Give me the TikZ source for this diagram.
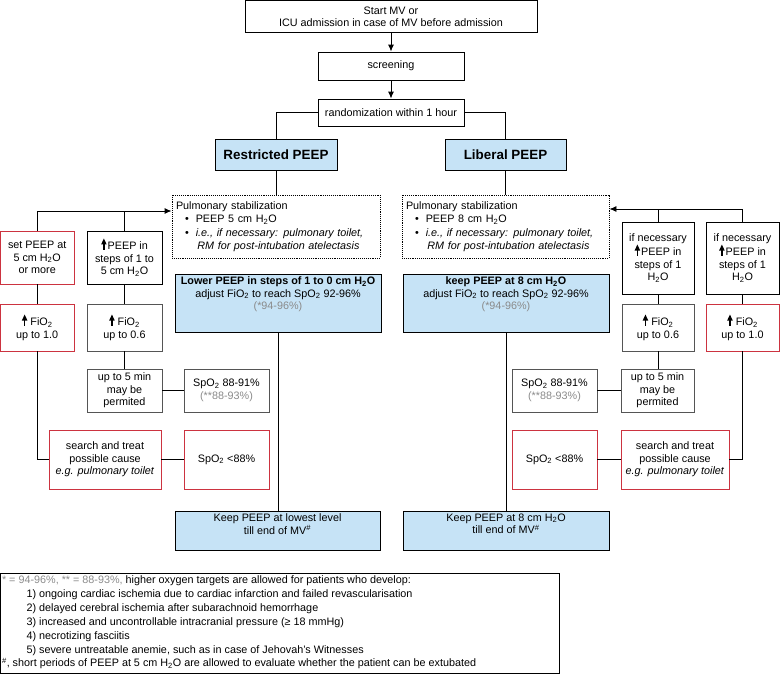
\documentclass[tikz,border=0pt]{standalone}
\usepackage{fontspec}
\setmainfont{Liberation Sans}
\usetikzlibrary{arrows.meta}
\definecolor{bluef}{HTML}{C6E3F6}
\definecolor{redb}{HTML}{CC3340}
\definecolor{grayb}{HTML}{555555}
\definecolor{grayt}{HTML}{8A8A8A}
\newcommand{\Hzo}{H\textsubscript{2}O}
\newcommand{\Fio}{FiO\textsubscript{2}}
\newcommand{\Spo}{SpO\textsubscript{2}}
\newcommand{\uparr}{\tikz[baseline=0pt]{\fill (-0.7pt,-0.5pt) rectangle (0.7pt,6pt); \fill (-2.8pt,5pt) -- (0pt,11pt) -- (2.8pt,5pt) -- cycle;}}
\begin{document}
\begin{tikzpicture}[x=1pt,y=-1pt,
  base/.style={draw, line width=0.9pt, inner sep=1pt, align=center, font=\fontsize{10.8}{12.7}\selectfont},
  bx/.style n args={2}{base, minimum width=#1, minimum height=#2},
  redbox/.style={draw=redb},
  graybox/.style={draw=grayb},
  bluebox/.style={fill=bluef},
  dotbox/.style={densely dotted},
  conn/.style={line width=0.9pt},
  arr/.style={conn, -{Latex[length=7pt,width=6pt]}},
  txt/.style={inner sep=0pt, font=\fontsize{10.8}{12.7}\selectfont}
]
\useasboundingbox (0,0) rectangle (780,675);

% top
\node[bx={292}{32}] (start) at (391,16.8) {Start MV or\\ICU admission in case of MV before admission};
\node[bx={146}{28}] (screen) at (391,66) {screening};
\node[bx={146}{27}] (rand) at (391,112.5) {randomization within 1 hour};
\node[bx={122}{31}, bluebox, font=\fontsize{13.4}{15}\selectfont\bfseries] (restr) at (276,154.5) {Restricted PEEP};
\node[bx={121}{31}, bluebox, font=\fontsize{13.4}{15}\selectfont\bfseries] (lib) at (505.5,154.5) {Liberal PEEP};

% pulmonary stabilization
\node[bx={208}{63}, dotbox, align=left, text width=200pt, fontsize/.style={}] (pulmL) at (276,226.5)
  {Pulmonary stabilization\\[1pt]
   \hspace*{9pt}\textbullet\hspace{7pt}PEEP 5 cm \Hzo\\[1pt]
   \hspace*{9pt}\textbullet\hspace{7pt}\textit{i.e., if necessary: pulmonary toilet,}\\
   \hspace*{21.4pt}\textit{RM for post-intubation atelectasis}};
\node[bx={207}{63}, dotbox, align=left, text width=199pt] (pulmR) at (505.5,226.5)
  {Pulmonary stabilization\\[1pt]
   \hspace*{9pt}\textbullet\hspace{7pt}PEEP 8 cm \Hzo\\[1pt]
   \hspace*{9pt}\textbullet\hspace{7pt}\textit{i.e., if necessary: pulmonary toilet,}\\
   \hspace*{21.4pt}\textit{RM for post-intubation atelectasis}};

% left side
\node[bx={73.5}{53}, redbox] (setp) at (37.2,257.5) {set PEEP at\\5 cm \Hzo\\or more};
\node[bx={75}{53}] (steps) at (124.5,257.5) {\uparr\hspace{1pt}PEEP in\\steps of 1 to\\5 cm \Hzo};
\node[bx={73.5}{47}, redbox] (fioL1) at (37.2,327.5) {\uparr\hspace{3pt}\Fio\\up to 1.0};
\node[bx={75}{47}, graybox] (fioL2) at (124.5,327.5) {\uparr\hspace{3pt}\Fio\\up to 0.6};
\node[bx={75}{43}, graybox] (up5L) at (124.5,390.5) {up to 5 min\\may be\\permited};
\node[bx={85}{43}, graybox] (spoL) at (226.5,390.5) {\Spo{} 88-91\%\\{\color{grayt}(**88-93\%)}};
\node[bx={112}{59}, redbox] (searchL) at (105,459.5) {search and treat\\possible cause\\\textit{e.g. pulmonary toilet}};
\node[bx={85}{59}, redbox] (lowL) at (226.5,459.5) {\Spo{} <88\%};

% centre blue boxes
\node[bx={206}{58}, bluebox] (lower) at (278,303) {};
\node[txt, anchor=north, align=center] (lowertxt) at ([yshift=-3pt]lower.north)
  {\textbf{Lower PEEP in steps of 1 to 0 cm \Hzo}\\adjust \Fio{} to reach \Spo{} 92-96\%\\{\color{grayt}(*94-96\%)}};
\node[bx={206}{58}, bluebox] (keep8) at (506,303) {};
\node[txt, anchor=north, align=center] (keep8txt) at ([yshift=-3pt]keep8.north)
  {\textbf{keep PEEP at 8 cm \Hzo}\\adjust \Fio{} to reach \Spo{} 92-96\%\\{\color{grayt}(*94-96\%)}};
\node[bx={205}{39}, bluebox] (keeplow) at (277.5,530.5) {};
\node[txt, anchor=north, align=center] (keeplowtxt) at ([yshift=-3pt]keeplow.north)
  {Keep PEEP at lowest level\\till end of MV\textsuperscript{\#}};
\node[bx={206}{39}, bluebox] (keep8e) at (506,530.5) {};
\node[txt, anchor=north, align=center] (keep8etxt) at ([yshift=-3pt]keep8e.north)
  {Keep PEEP at 8 cm \Hzo\\till end of MV\textsuperscript{\#}};

% right side
\node[bx={72}{72}] (nec1) at (658,258) {if necessary\\\uparr\hspace{1pt}PEEP in\\steps of 1\\\Hzo};
\node[bx={73}{72}] (nec2) at (742.5,258) {if necessary\\\uparr\hspace{1pt}PEEP in\\steps of 1\\\Hzo};
\node[bx={72}{47}, graybox] (fioR1) at (658,327.5) {\uparr\hspace{3pt}\Fio\\up to 0.6};
\node[bx={73}{47}, redbox] (fioR2) at (742.5,327.5) {\uparr\hspace{3pt}\Fio\\up to 1.0};
\node[bx={73}{43}, graybox] (up5R) at (657.5,390.5) {up to 5 min\\may be\\permited};
\node[bx={85}{43}, graybox] (spoR) at (554.5,390.5) {\Spo{} 88-91\%\\{\color{grayt}(**88-93\%)}};
\node[bx={108}{59}, redbox] (searchR) at (675,459.5) {search and treat\\possible cause\\\textit{e.g. pulmonary toilet}};
\node[bx={85}{59}, redbox] (lowR) at (554.5,459.5) {\Spo{} <88\%};

% legend
\node[bx={559}{100}] (legend) at (280.3,623.5) {};
\node[txt, anchor=north west, align=left, font=\fontsize{10.8}{13.9}\selectfont] (legtxt) at ([xshift=1.5pt,yshift=-2.5pt]legend.north west)
  {{\color{grayt}* = 94-96\%, ** = 88-93\%,} higher oxygen targets are allowed for patients who develop:\\
   \hspace*{24.5pt}1) ongoing cardiac ischemia due to cardiac infarction and failed revascularisation\\
   \hspace*{24.5pt}2) delayed cerebral ischemia after subarachnoid hemorrhage\\
   \hspace*{24.5pt}3) increased and uncontrollable intracranial pressure (≥ 18 mmHg)\\
   \hspace*{24.5pt}4) necrotizing fasciitis\\
   \hspace*{24.5pt}5) severe untreatable anemie, such as in case of Jehovah's Witnesses\\
   \textsuperscript{\#}, short periods of PEEP at 5 cm \Hzo{} are allowed to evaluate whether the patient can be extubated};

% connectors top
\draw[arr] (start) -- (screen);
\draw[arr] (screen) -- (rand);
\draw[conn] (rand.west) -| (restr.north);
\draw[conn] (rand.east) -| (lib.north);
\draw[conn] (restr.south) -- (restr.south |- pulmL.north);
\draw[conn] (lib.south) -- (lib.south |- pulmR.north);

% left loop
\coordinate (jl) at (37.2,211);
\draw[arr] (setp.north) -- (jl) -- (jl -| pulmL.west);
\draw[conn] (steps.north) -- (steps.north |- jl);
\draw[conn] (setp.south) -- (fioL1.north);
\draw[conn] (steps.south) -- (fioL2.north);
\draw[conn] (fioL2.south) -- (up5L.north);
\draw[conn] (up5L.east) -- (spoL.west);
\draw[conn] (fioL1.south) |- (searchL.west);
\draw[conn] (searchL.east) -- (lowL.west);
\draw[conn] (lower.south) -- (lower.south |- keeplow.north);

% right loop
\coordinate (jr) at (742.5,209);
\draw[arr] (nec2.north) -- (jr) -- (jr -| pulmR.east);
\draw[conn] (nec1.north) -- (nec1.north |- jr);
\draw[conn] (nec1.south) -- (fioR1.north);
\draw[conn] (nec2.south) -- (fioR2.north);
\draw[conn] (fioR1.south) -- (fioR1.south |- up5R.north);
\draw[conn] (up5R.west) -- (spoR.east);
\draw[conn] (fioR2.south) |- (searchR.east);
\draw[conn] (searchR.west) -- (lowR.east);
\draw[conn] (keep8.south) -- (keep8.south |- keep8e.north);
\end{tikzpicture}
\end{document}
